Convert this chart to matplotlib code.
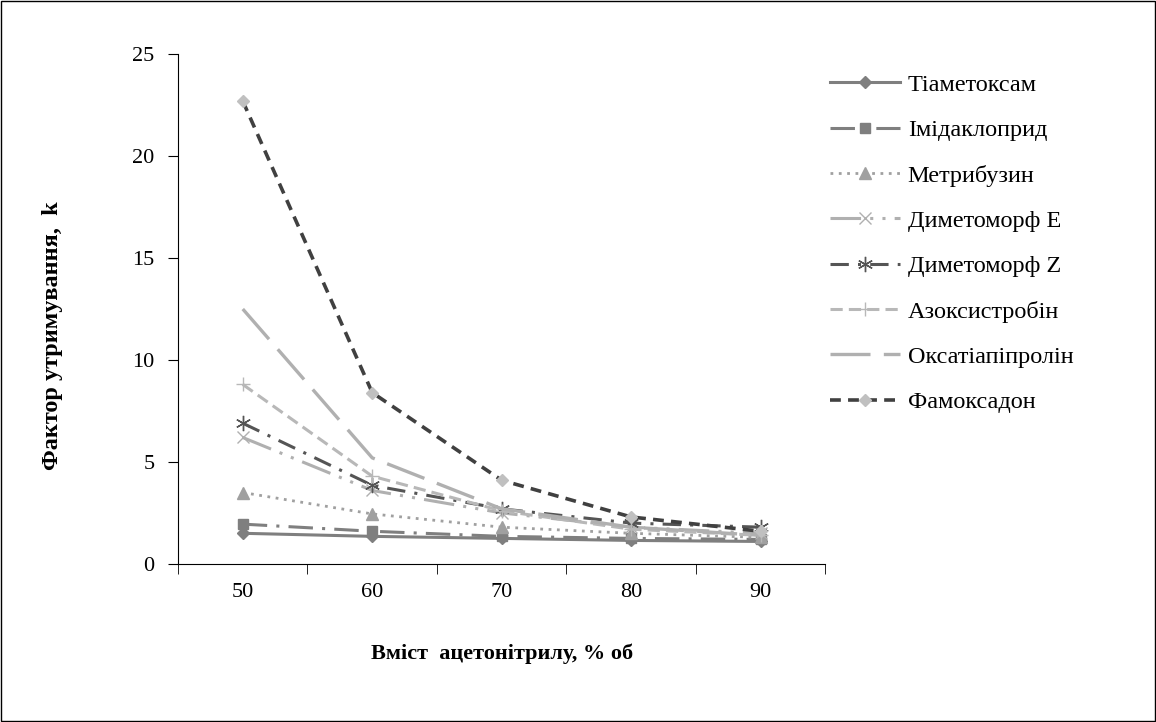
import matplotlib.pyplot as plt

plt.rcParams['font.family'] = ['Liberation Serif', 'DejaVu Serif']

acn = [50, 60, 70, 80, 90]

tiametoksam = [1.5, 1.35, 1.25, 1.15, 1.1]
imidakloprid = [1.95, 1.6, 1.35, 1.25, 1.2]
metrybuzyn = [3.5, 2.45, 1.8, 1.5, 1.3]
dymetomorf_e = [6.2, 3.6, 2.5, 1.8, 1.5]
dymetomorf_z = [6.9, 3.85, 2.7, 2.0, 1.8]
azoksystrobin = [8.8, 4.3, 2.6, 1.7, 1.4]
oksatiapiprolin = [12.5, 5.2, 2.7, 1.8, 1.4]
famoksadon = [22.7, 8.4, 4.1, 2.3, 1.6]

fig = plt.figure(figsize=(11.56, 7.22), dpi=100)
ax = fig.add_axes([0.154, 0.219, 0.56, 0.706])

x = list(range(len(acn)))

ax.plot(x, tiametoksam, color="#7f7f7f", lw=2.2, marker="D", ms=6, label="Тіаметоксам")
ax.plot(x, imidakloprid, color="#7f7f7f", lw=2.2, ls=(0, (8, 3, 1, 3)), marker="s", ms=7, label="Імідаклоприд")
ax.plot(x, metrybuzyn, color="#a0a0a0", lw=2, ls=(0, (1, 2)), marker="^", ms=8, label="Метрибузин")
ax.plot(x, dymetomorf_e, color="#b0b0b0", lw=2.2, ls=(0, (10, 3, 1, 3, 1, 3)), marker="x", ms=9,
        mew=1, label="Диметоморф E")
ax.plot(x, dymetomorf_z, color="#555555", lw=2.2, ls=(0, (6, 3, 1, 3)), marker=(6, 2, 0), ms=11,
        mew=1, label="Диметоморф Z")
ax.plot(x, azoksystrobin, color="#b8b8b8", lw=2.2, ls=(0, (4, 2)), marker="+", ms=10,
        mew=1, label="Азоксистробін")
ax.plot(x, oksatiapiprolin, color="#b0b0b0", lw=2.4, ls=(0, (12, 4)), label="Оксатіапіпролін")
ax.plot(x, famoksadon, color="#404040", lw=2.6, ls=(0, (3, 2)), marker="D", ms=6,
        mfc="#c0c0c0", mec="#c0c0c0", label="Фамоксадон")

ax.set_xlim(-0.5, 4.5)
ax.set_xticks(x)
ax.set_xticklabels([str(v) for v in acn])
ax.set_xticks([i - 0.5 for i in range(6)], minor=True)
ax.tick_params(axis="x", which="major", length=0, labelsize=16, pad=14)
ax.tick_params(axis="x", which="minor", length=7, direction="out")
ax.set_ylim(0, 25)
ax.set_yticks([0, 5, 10, 15, 20, 25])
ax.tick_params(axis="y", length=7, direction="out", labelsize=16, pad=10)

ax.spines["top"].set_visible(False)
ax.spines["right"].set_visible(False)

ax.set_xlabel("Вміст  ацетонітрилу, % об", fontsize=16, fontweight="bold", labelpad=30)
ax.set_ylabel("Фактор утримування,  k", fontsize=17.5, fontweight="bold")
ax.yaxis.set_label_coords(-0.178, 0.447)

fig.legend(loc="upper left", bbox_to_anchor=(0.699, 0.928), frameon=False, fontsize=17.5,
           handlelength=2.9, labelspacing=0.96, handletextpad=0.3)

fig.add_artist(plt.Rectangle((0.001, 0.001), 0.998, 0.998, fill=False, ec="black", lw=1,
                             transform=fig.transFigure))

fig.savefig("out.png", dpi=100)
